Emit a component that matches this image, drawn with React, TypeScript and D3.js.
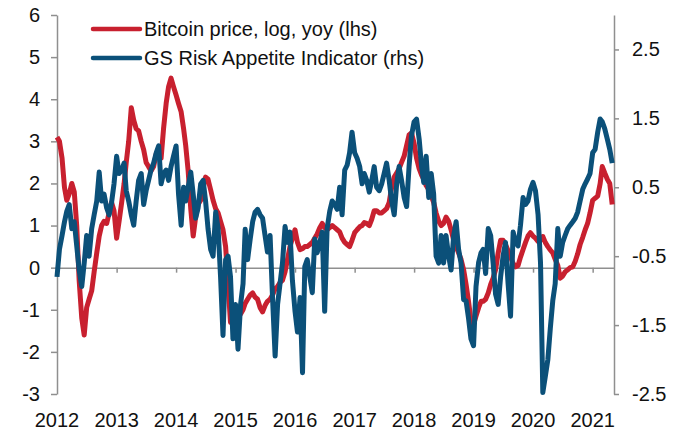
import { useRef, useLayoutEffect } from "react";
import * as d3 from "d3";

const WIDTH = 680;
const HEIGHT = 433;
const RED = "#c8202f";
const BLUE = "#0b5079";
const AXIS = "#8f8f8f";
const FONT = "'Liberation Sans', Arial, sans-serif";
const FONT_SIZE = 20;

// observations on the 1st and 16th of each month, Jan 2012 .. May 2021
const dates: Date[] = d3.range(225).map((i) => new Date(2012, Math.floor(i / 2), i % 2 ? 16 : 1));

// Bitcoin price, log, yoy (left axis)
const bitcoinYoy = [
  3.1, 3.0, 2.6, 1.9, 1.6, 1.75, 2.0, 1.8, 1.0, -0.3, -1.2, -1.6, -0.95, -0.75, -0.55, -0.1, 0.35, 0.75, 1.0, 1.1, 1.05, 1.3, 1.55, 1.35,
  0.7, 1.1, 1.55, 2.0, 2.5, 3.0, 3.8, 3.5, 3.3, 3.25, 3.0, 2.8, 2.5, 2.4, 2.3, 2.4, 2.7, 2.8, 2.6, 3.3, 3.9, 4.3, 4.5, 4.3,
  4.1, 3.9, 3.7, 3.3, 2.9, 2.3, 1.4, 0.75, 1.2, 1.5, 1.6, 1.9, 2.15, 2.1, 1.85, 1.6, 1.4, 1.3, 1.1, 0.9, 0.5, -0.4, -1.3, -1.2,
  -1.05, -1.0, -1.1, -1.0, -0.85, -0.75, -0.65, -0.6, -0.7, -0.75, -0.95, -1.05, -0.9, -0.8, -0.75, -0.65, -0.5, -0.45, -0.35, -0.3, -0.1, 0.2, 0.5, 0.7,
  0.9, 0.6, 0.43, 0.45, 0.5, 0.5, 0.55, 0.6, 0.7, 0.8, 0.95, 1.05, 0.95, 0.9, 0.95, 1.0, 0.95, 0.9, 0.85, 0.7, 0.6, 0.55, 0.5, 0.65,
  0.83, 0.9, 0.97, 1.0, 1.07, 1.05, 1.0, 1.15, 1.35, 1.35, 1.3, 1.3, 1.35, 1.4, 1.55, 1.9, 2.15, 2.25, 2.35, 2.5, 2.65, 2.9, 3.15, 3.2,
  2.95, 2.6, 2.35, 2.2, 2.1, 1.95, 1.85, 1.7, 1.55, 1.3, 1.1, 1.0, 1.05, 1.2, 1.1, 0.9, 0.65, 0.5, 0.35, 0.2, -0.05, -0.4, -0.8, -1.25,
  -1.35, -1.15, -0.95, -0.8, -0.8, -0.75, -0.6, -0.4, -0.25, -0.05, 0.35, 0.65, 0.65, 0.55, 0.4, 0.25, 0.1, 0.02, 0.05, 0.25, 0.43, 0.6, 0.75, 0.83,
  0.75, 0.7, 0.62, 0.65, 0.74, 0.6, 0.5, 0.42, 0.35, 0.2, 0.05, -0.25, -0.2, -0.1, -0.05, 0.0, 0.02, 0.15, 0.33, 0.55, 0.72, 0.9, 1.05, 1.3,
  1.6, 1.65, 1.7, 2.0, 2.4, 2.25, 2.1, 2.0, 1.5,
];

// GS Risk Appetite Indicator (right axis)
const riskAppetite = [
  -0.8, -0.4, -0.2, 0.0, 0.15, 0.25, -0.1, 0.0, -0.35, -0.7, -0.94, -0.6, -0.2, -0.5, -0.1, 0.1, 0.3, 0.72, 0.3, 0.4, 0.2, 0.1, 0.28, 0.55,
  0.95, 0.7, 0.75, 0.85, 0.45, 0.3, 0.1, -0.05, 0.3, 0.6, 0.7, 0.25, 0.45, 0.6, 0.76, 0.85, 1.0, 1.1, 0.55, 0.7, 0.75, 0.6, 0.8, 0.95,
  1.1, 0.4, -0.05, 0.5, 0.3, 0.5, 0.72, 0.4, 0.05, 0.2, 0.55, 0.6, 0.3, -0.1, -0.4, -0.5, 0.14, -0.1, -0.8, -1.65, -0.55, -0.5, -0.8, -1.7,
  -1.2, -1.85, -1.2, -0.9, -0.11, -0.55, -0.25, 0.0, 0.14, 0.18, 0.1, 0.05, -0.2, -0.44, -0.2, -1.1, -1.95, -1.2, -0.9, -0.6, -0.07, -0.3, -0.15, -0.85,
  -1.3, -1.6, -1.1, -2.19, -0.65, -0.55, -0.8, -1.03, -0.25, -0.45, -0.3, -0.15, -1.3, -0.1, 0.15, 0.3, 0.25, 0.18, 0.5, 0.1, 0.75, 0.82, 1.0, 1.3,
  1.0, 0.92, 0.8, 0.55, 0.7, 0.6, 0.43, 0.6, 0.8, 0.5, 0.45, 0.55, 0.7, 0.85, 0.6, 0.3, 0.1, 0.55, 0.8, 0.6, 0.35, 0.22, 0.8, 1.25,
  1.45, 1.49, 1.2, 0.8, 0.57, 0.95, 0.35, 0.7, 0.4, -0.5, -0.6, -0.2, -0.6, -0.2, -0.5, -0.7, -0.2, 0.0, -0.4, -0.6, -1.13, -1.15, -1.4, -1.7,
  -1.8, -0.94, -0.59, -0.45, -0.4, -0.75, -0.1, -0.2, -0.6, -1.05, -1.2, -0.8, -0.5, -0.3, -0.9, -1.37, -0.15, -0.3, -0.35, -0.05, 0.35, 0.25, 0.3, 0.47,
  0.57, 0.45, 0.1, -0.6, -2.48, -2.25, -2.0, -1.55, -1.15, -0.9, -0.1, -0.5, -0.3, -0.2, -0.1, -0.05, 0.0, 0.05, 0.14, 0.3, 0.47, 0.55, 0.62, 0.7,
  1.0, 1.05, 1.3, 1.49, 1.45, 1.35, 1.2, 1.05, 0.85,
];

const years = d3.range(2012, 2022);
const leftTicks = d3.range(-3, 7);
const rightTicks = [-2.5, -1.5, -0.5, 0.5, 1.5, 2.5];
const legendLabels = ["Bitcoin price, log, yoy (lhs)", "GS Risk Appetite Indicator (rhs)"];
const legendColors = [RED, BLUE];

const useChart = () => {
  const svgRef = useRef<SVGSVGElement | null>(null);

  useLayoutEffect(() => {
    if (!svgRef.current) return;
    const svg = d3.select(svgRef.current);
    svg.selectAll("*").remove();

    const x = d3.scaleTime().domain([new Date(2012, 0, 1), new Date(2021, 4, 12)]).range([57, 614]);
    const yL = d3.scaleLinear().domain([-3, 6]).range([394, 15]);
    const yR = d3.scaleLinear().domain([-2.5, 3]).range([394, 15]);

    const styleAxis = (g: any) => {
      g.attr("font-family", FONT).attr("font-size", FONT_SIZE);
      g.selectAll("path, line").attr("stroke", AXIS).attr("stroke-width", 1.5);
      g.selectAll("text").attr("fill", "#111");
    };

    // left axis
    svg
      .append("g")
      .attr("transform", "translate(57,0)")
      .call(
        d3.axisLeft(yL).tickValues(leftTicks).tickSize(6).tickSizeOuter(0).tickPadding(11)
          .tickFormat((d) => String(d))
      )
      .call(styleAxis);

    // right axis
    svg
      .append("g")
      .attr("transform", "translate(614,0)")
      .call(
        d3.axisRight(yR).tickValues(rightTicks).tickSize(5).tickSizeOuter(0).tickPadding(13)
          .tickFormat((d) => String(d))
      )
      .call(styleAxis);

    // x axis on the zero line, labels along the bottom
    svg
      .append("g")
      .attr("transform", `translate(0,${yL(0)})`)
      .call(
        d3.axisBottom(x).tickValues(years.map((y) => new Date(y, 0, 1))).tickSize(5).tickSizeOuter(0)
          .tickFormat(() => "")
      )
      .call(styleAxis);

    svg
      .append("g")
      .selectAll("text")
      .data(years)
      .enter()
      .append("text")
      .attr("x", (y) => x(new Date(y, 0, 1)))
      .attr("y", 427)
      .attr("text-anchor", "middle")
      .attr("font-family", FONT)
      .attr("font-size", FONT_SIZE)
      .attr("fill", "#111")
      .text((y) => String(y));

    // series
    const lineL = d3.line<number>().x((_, i) => x(dates[i])).y((d) => yL(d));
    const lineR = d3.line<number>().x((_, i) => x(dates[i])).y((d) => yR(d));

    svg
      .append("path")
      .attr("d", lineL(bitcoinYoy) as string)
      .attr("fill", "none")
      .attr("stroke", RED)
      .attr("stroke-width", 5)
      .attr("stroke-linejoin", "round");

    svg
      .append("path")
      .attr("d", lineR(riskAppetite) as string)
      .attr("fill", "none")
      .attr("stroke", BLUE)
      .attr("stroke-width", 5)
      .attr("stroke-linejoin", "round");

    // legend
    const legend = svg
      .append("g")
      .selectAll("g")
      .data(legendLabels)
      .enter()
      .append("g")
      .attr("transform", (_, i) => `translate(93,${29 + i * 29})`);

    legend
      .append("line")
      .attr("x1", 0)
      .attr("x2", 47)
      .attr("stroke", (_, i) => legendColors[i])
      .attr("stroke-width", 4.5)
      .attr("stroke-linecap", "round");

    legend
      .append("text")
      .attr("x", 51)
      .attr("dy", "0.35em")
      .attr("font-family", FONT)
      .attr("font-size", FONT_SIZE)
      .attr("fill", "#111")
      .text((d) => d);
  }, []);

  return svgRef;
};

export default function App() {
  const svgRef = useChart();
  return (
    <svg
      ref={svgRef}
      width={WIDTH}
      height={HEIGHT}
      style={{ position: "absolute", left: 0, top: 0, background: "#fff" }}
    />
  );
}
